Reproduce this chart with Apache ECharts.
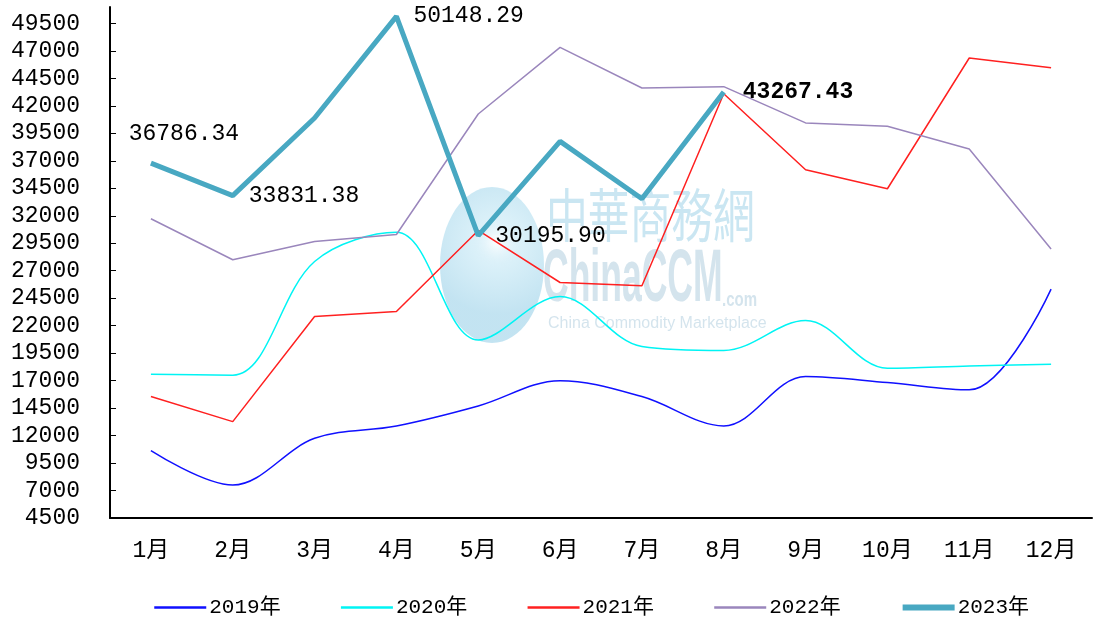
<!DOCTYPE html>
<html lang="zh">
<head>
<meta charset="UTF-8">
<title>2019-2023年月度价格走势</title>
<script src="https://cdn.jsdelivr.net/npm/echarts@6/dist/echarts.min.js"></script>
<style>
  html, body { margin: 0; padding: 0; background: #fff; }
  #main { width: 1094px; height: 623px; }
</style>
</head>
<body>
<div id="main"></div>
<script type="text/javascript">
// 横轴月份
var months = ['1月', '2月', '3月', '4月', '5月', '6月', '7月', '8月', '9月', '10月', '11月', '12月'];
// 各年数据
var y2019 = [10630, 7500, 11750, 12880, 14700, 17000, 15550, 12880, 17370, 16820, 16160, 25330];
var y2020 = [17590, 17500, 27840, 30500, 20700, 24650, 20100, 19740, 22470, 18130, 18340, 18500];
var y2021 = [15550, 13270, 22830, 23290, 30670, 25930, 25630, 43100, 36190, 34460, 46360, 45480];
var y2022 = [31730, 28000, 29660, 30300, 41260, 47330, 43630, 43750, 40450, 40140, 38080, 28970];
var y2023 = [36786.34, 33831.38, 40900, 50148.29, 30195.90, 38770, 33550, 43267.43];
var seriesNames = ['2019年', '2020年', '2021年', '2022年', '2023年'];
var seriesColors = ['#1010ff', '#00f4f4', '#ff2020', '#9a86bc', '#48a8c2'];

var FONT = "'Liberation Mono', 'Noto Sans CJK SC', monospace";

var myChart = echarts.init(document.getElementById('main'));

// 2023年部分点带数值标签
var labelCfg = {
    0: { position: 'top', offset: [33, -13] },
    1: { position: 'right', distance: 16 },
    3: { position: 'right', distance: 17 },
    4: { position: 'right', distance: 17 },
    7: { position: 'right', distance: 19, fontWeight: 'bold' }
};
var data2023 = y2023.map(function (v, i) {
    var item = { value: v };
    if (labelCfg[i]) {
        item.label = Object.assign({ show: true }, labelCfg[i]);
    }
    return item;
});

function lineSeries(name, data, color, width, smooth) {
    return {
        name: name,
        type: 'line',
        data: data,
        smooth: smooth,
        symbol: 'circle',
        symbolSize: 0.1,
        showSymbol: true,
        itemStyle: { color: 'rgba(0,0,0,0)', borderWidth: 0 },
        lineStyle: { color: color, width: width },
        emphasis: { disabled: true }
    };
}

var legendData = seriesNames.map(function (n, i) {
    return { name: n, itemStyle: { opacity: 0 }, lineStyle: { color: seriesColors[i], width: i === 4 ? 6 : 2.5 } };
});

var option = {
    animation: false,
    grid: { left: 110, right: 2, top: 7, bottom: 105 },
    graphic: [
        {
            type: 'ellipse', silent: true, z: 0,
            shape: { cx: 492, cy: 265, rx: 52, ry: 78 },
            style: {
                fill: {
                    type: 'radial', x: 0.55, y: 0.35, r: 0.7,
                    colorStops: [
                        { offset: 0, color: 'rgba(255,255,255,0.9)' },
                        { offset: 0.35, color: 'rgba(180,225,242,0.5)' },
                        { offset: 1, color: 'rgba(135,200,228,0.5)' }
                    ]
                }
            }
        },
        {
            type: 'text', silent: true, z: 0, x: 546, y: 186, scaleX: 0.72,
            style: { text: '中華商務網', font: '58px "Noto Sans CJK TC"', fill: 'rgba(150,205,230,0.5)' }
        },
        {
            type: 'text', silent: true, z: 0, x: 543, y: 244, scaleX: 0.48,
            style: { text: 'ChinaCCM', font: 'bold 74px "Liberation Sans"', fill: 'rgba(160,195,215,0.45)' }
        },
        {
            type: 'text', silent: true, z: 0, x: 722, y: 290, scaleX: 0.75,
            style: { text: '.com', font: 'bold 20px "Liberation Sans"', fill: 'rgba(160,195,215,0.45)' }
        },
        {
            type: 'text', silent: true, z: 0, x: 548, y: 316,
            style: { text: 'China Commodity Marketplace', font: '16px "Liberation Sans"', fill: 'rgba(160,195,215,0.45)' }
        }
    ],
    legend: {
        data: legendData,
        top: 592,
        left: 148,
        itemWidth: 52,
        itemHeight: 18,
        itemGap: 59,
        itemStyle: { opacity: 0 },
        textStyle: { fontFamily: FONT, fontSize: 21, color: '#000', padding: [0, 0, 0, -2] }
    },
    xAxis: {
        type: 'category',
        data: months,
        boundaryGap: true,
        axisLine: { lineStyle: { color: '#000', width: 2 } },
        axisTick: { inside: true, length: 6, lineStyle: { color: '#000' } },
        axisLabel: { fontFamily: FONT, fontSize: 23, color: '#000', margin: 21 },
        splitLine: { show: false }
    },
    yAxis: {
        type: 'value',
        min: 4500,
        max: 51000,
        interval: 2500,
        axisLine: { show: true, lineStyle: { color: '#000', width: 2 } },
        axisTick: { show: true, inside: true, length: 6, lineStyle: { color: '#000' } },
        axisLabel: {
            fontFamily: FONT, fontSize: 23, color: '#000', margin: 30, showMaxLabel: false,
            formatter: function (v) { return String(v); }
        },
        splitLine: { show: false }
    },
    series: [
        lineSeries(seriesNames[0], y2019, seriesColors[0], 1.5, 0.35),
        lineSeries(seriesNames[1], y2020, seriesColors[1], 1.5, 0.35),
        lineSeries(seriesNames[2], y2021, seriesColors[2], 1.5, false),
        lineSeries(seriesNames[3], y2022, seriesColors[3], 1.5, false),
        Object.assign(lineSeries(seriesNames[4], data2023, seriesColors[4], 5, false), {
            label: {
                fontFamily: FONT, fontSize: 23, color: '#000',
                formatter: function (p) { return p.value.toFixed(2); }
            },
            z: 3
        })
    ]
};

myChart.setOption(option);
</script>
</body>
</html>
